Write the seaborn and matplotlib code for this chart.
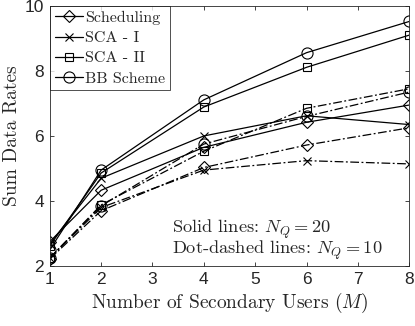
import matplotlib
matplotlib.use("Agg")
import matplotlib.pyplot as plt
import seaborn as sns
import numpy as np

M = [1, 2, 4, 6, 8]
# N_Q = 20 (solid)
sched_20 = [2.75, 4.33, 5.65, 6.42, 6.95]
sca1_20 = [2.68, 4.70, 6.00, 6.62, 6.35]
sca2_20 = [2.62, 4.86, 6.89, 8.11, 9.10]
bb_20 = [2.50, 4.95, 7.11, 8.56, 9.52]
# N_Q = 10 (dot-dashed)
sched_10 = [2.22, 3.70, 5.03, 5.72, 6.25]
sca1_10 = [2.25, 3.80, 4.95, 5.24, 5.14]
sca2_10 = [2.25, 3.88, 5.53, 6.85, 7.45]
bb_10 = [2.25, 3.85, 5.75, 6.60, 7.35]

labels = ["Scheduling", "SCA - I", "SCA - II", "BB Scheme"]
markers = ["D", "x", "s", "o"]
msizes = [6.5, 6, 6, 8]

sns.set_style("ticks")
plt.rcParams["font.family"] = ["DejaVu Serif"]
plt.rcParams["mathtext.fontset"] = "cm"

fig = plt.figure(figsize=(4.15, 3.26), dpi=100)
ax = fig.add_axes([0.120, 0.184, 0.866, 0.798])

solid = [sched_20, sca1_20, sca2_20, bb_20]
dashed = [sched_10, sca1_10, sca2_10, bb_10]
for lab, mk, ms, ys in zip(labels, markers, msizes, solid):
    sns.lineplot(x=M, y=ys, ax=ax, color="black", lw=0.9, marker=mk,
                 markersize=ms, markerfacecolor="none",
                 markeredgecolor="black", markeredgewidth=0.8, label=lab,
                 linestyle="-")
for lab, mk, ms, ys in zip(labels, markers, msizes, dashed):
    sns.lineplot(x=M, y=ys, ax=ax, color="black", lw=0.9, marker=mk,
                 markersize=ms, markerfacecolor="none",
                 markeredgecolor="black", markeredgewidth=0.8,
                 linestyle=(0, (7, 2, 1.5, 2)), legend=False)

ax.set_xlim(1, 8)
ax.set_ylim(2, 10)
ax.set_xticks([1, 2, 3, 4, 5, 6, 7, 8])
ax.set_yticks([2, 4, 6, 8, 10])
for t in ax.get_xticklabels() + ax.get_yticklabels():
    t.set_fontfamily("Liberation Sans")
    t.set_fontsize(12.5)
ax.tick_params(direction="in", length=3, width=0.6, top=True, right=True, pad=4)
for s in ax.spines.values():
    s.set_linewidth(0.6)
    s.set_visible(True)

ax.set_xlabel("Number of Secondary Users ($M$)", fontsize=14, fontfamily="cmr10", labelpad=3)
ax.set_ylabel("Sum Data Rates", fontsize=14, fontfamily="cmr10", labelpad=3)

leg = ax.legend(loc="upper left", frameon=True, fancybox=False, edgecolor="black",
                prop={"family": "cmr10", "size": 11.5}, handlelength=1.8,
                handletextpad=0.1, borderpad=0.3, labelspacing=0.38,
                borderaxespad=0.0)
leg.get_frame().set_linewidth(0.6)

ax.text(3.38, 3.14, "Solid lines: $N_Q = 20$", fontsize=13.2, fontfamily="cmr10",
        va="center", ha="left")
ax.text(3.38, 2.48, "Dot-dashed lines: $N_Q = 10$", fontsize=13.2, fontfamily="cmr10",
        va="center", ha="left")

fig.savefig("out.png", dpi=100)
